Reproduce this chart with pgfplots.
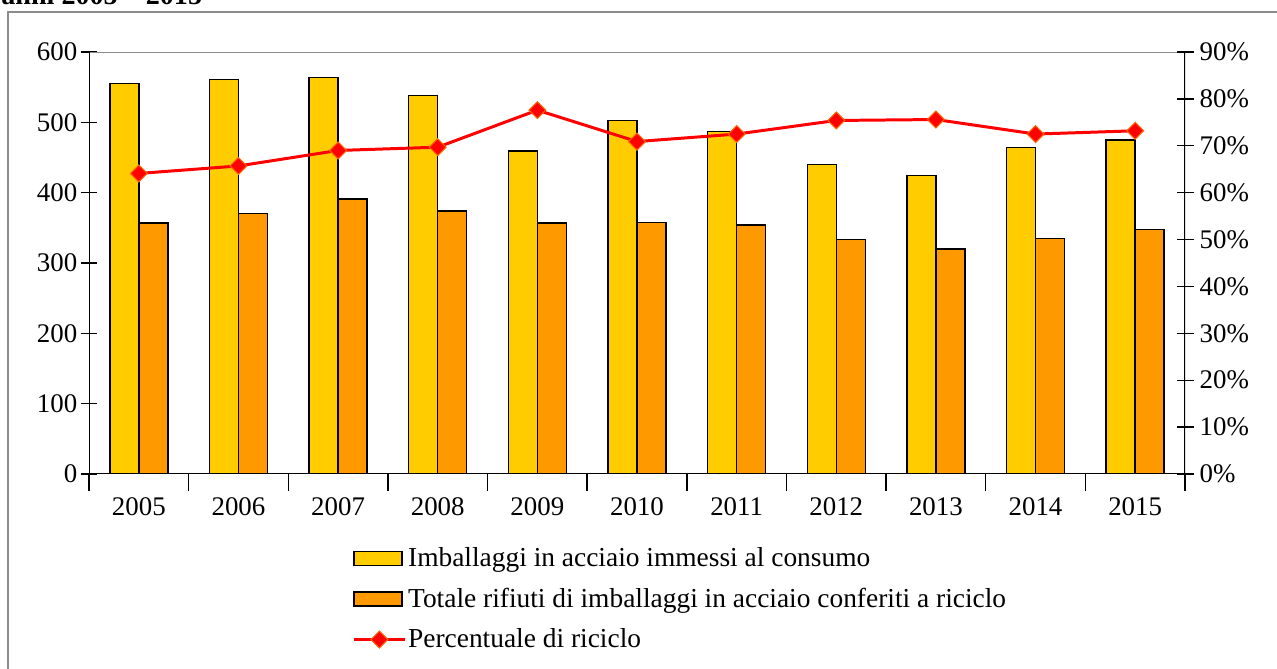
\documentclass[border=0pt]{standalone}
\usepackage{pgfplots}
\pgfplotsset{compat=1.18}
\usepackage{pgfplotstable}
\usepackage{fontspec}
\setmainfont{Liberation Serif}

\definecolor{barYellow}{HTML}{FFCC00}
\definecolor{barOrange}{HTML}{FF9900}
\definecolor{frameGray}{HTML}{8C8C8C}
\definecolor{mkEdge}{HTML}{FF6600}

% idx: 0 = 2005 ... 10 = 2015
\pgfplotstableread{
idx imm ric pct
0  555 357 64.1
1  561 370 65.7
2  564 391 69.0
3  538 374 69.7
4  459 357 77.6
5  503 358 70.9
6  487 354 72.5
7  440 333 75.4
8  424 320 75.6
9  464 335 72.5
10 475 348 73.2
}\datatab

\pgfplotsset{
  barleg/.style={legend image code/.code={\draw[##1] (0cm,-0.14cm) rectangle (0.96cm,0.14cm);}},
  lineleg/.style={legend image code/.code={
    \draw[##1, mark=none] (0cm,0cm) -- (1.02cm,0cm);
    \draw[##1] plot coordinates {(0.51cm,0cm)};}},
  common/.style={
    at={(1.78cm,3.88cm)}, anchor=south west,
    scale only axis, width=21.92cm, height=8.44cm,
    xmin=-0.5, xmax=10.5,
    axis line style={draw=none},
    tick align=center,
    major tick length=0.34cm, minor tick length=0.34cm,
    tick style={black, line width=0.8pt},
    ticklabel style={font=\fontsize{15.3}{18}\selectfont},
    /pgf/number format/assume math mode=true,
  },
}

\begin{document}
\begin{tikzpicture}
\useasboundingbox (0,0) rectangle (25.54,13.36);
% outer chart frame (cut by the page on right and bottom)
\draw[frameGray, line width=1.1pt] (0.16,-1) rectangle (26,13.12);
\node[anchor=base west, inner sep=0pt, font=\fontsize{16}{19}\selectfont\bfseries]
  at (0.02,13.27) {anni 2005 -- 2015};

\begin{axis}[common,
  ymin=0, ymax=600,
  ybar=0pt, bar width=0.58cm,
  xtick={0,...,10},
  xticklabels={2005,2006,2007,2008,2009,2010,2011,2012,2013,2014,2015},
  major x tick style={draw=none},
  minor xtick={-0.5,0.5,...,10.5},
  ytick={0,100,...,600},
  yticklabel style={xshift=0.06cm},
  xtick pos=bottom, ytick pos=left,
]
\addplot[fill=barYellow, draw=black, line width=0.8pt] table[x=idx, y=imm] {\datatab};
\addplot[fill=barOrange, draw=black, line width=0.8pt] table[x=idx, y=ric] {\datatab};
\draw[frameGray, line width=0.8pt] (rel axis cs:0,1) -- (rel axis cs:1,1);
\draw[black, line width=0.8pt] (rel axis cs:0,0) -- (rel axis cs:1,0);
\draw[black, line width=0.8pt] (rel axis cs:0,0) -- (rel axis cs:0,1);
\end{axis}

\begin{axis}[common,
  ymin=0, ymax=90,
  hide x axis,
  ytick={0,10,...,90},
  ytick pos=right,
  yticklabel={\pgfmathprintnumber{\tick}\%},
  legend style={at={(0.24,-0.163)}, anchor=north west, draw=none, fill=none,
    inner sep=0pt, row sep=5.7pt,
    font=\fontsize{15.6}{18}\selectfont,
    nodes={inner ysep=0.25em, inner xsep=0.1em}},
  legend cell align=left,
]
\addlegendimage{barleg, fill=barYellow, draw=black, line width=0.8pt}
\addlegendentry{Imballaggi in acciaio immessi al consumo}
\addlegendimage{barleg, fill=barOrange, draw=black, line width=0.8pt}
\addlegendentry{Totale rifiuti di imballaggi in acciaio conferiti a riciclo}
\addplot[red, line width=1.7pt, mark=square*, mark size=3.4pt,
  mark options={rotate=45, fill=red, draw=mkEdge, line width=0.6pt}, lineleg]
  table[x=idx, y=pct] {\datatab};
\addlegendentry{Percentuale di riciclo}
\draw[black, line width=0.8pt] (rel axis cs:1,0) -- (rel axis cs:1,1);
\end{axis}
\end{tikzpicture}
\end{document}
